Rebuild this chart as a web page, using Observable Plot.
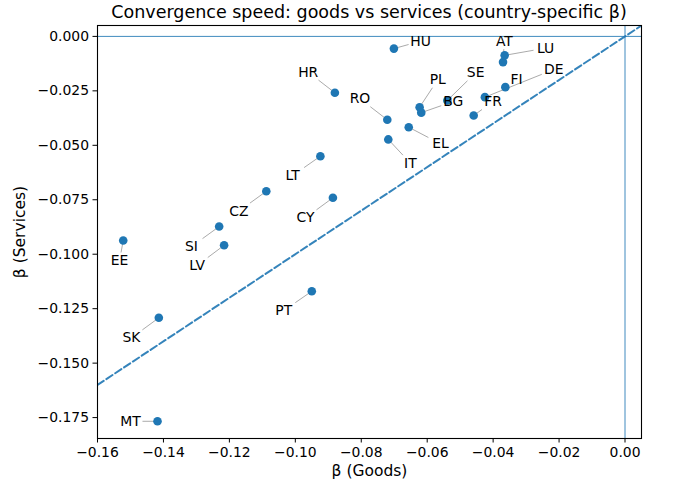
<!DOCTYPE html>
<html><head><meta charset="utf-8">
<script src="https://cdn.jsdelivr.net/npm/d3@7"></script>
<script src="https://cdn.jsdelivr.net/npm/@observablehq/plot@0.6"></script>
<style>
body{margin:0;background:#fff;font-family:"DejaVu Sans",sans-serif;}
#title{position:absolute;left:0;top:0;width:738px;height:25px;line-height:25px;text-align:center;font-size:17.5px;color:#000;}
#chart{position:absolute;left:0;top:24px;}
</style></head><body>
<div id="title">Convergence speed: goods vs services (country-specific β)</div>
<div id="chart"></div>
<script>
const countries = ["HU","AT","LU","HR","RO","PL","BG","SE","FI","DE","FR","EL","IT","LT","CZ","CY","SI","LV","EE","PT","SK","MT"];
const betaGoods = [-0.0701,-0.0370,-0.0365,-0.0880,-0.0721,-0.0623,-0.0618,-0.0539,-0.0363,-0.0425,-0.0459,-0.0656,-0.0718,-0.0924,-0.1088,-0.0886,-0.1231,-0.1216,-0.1522,-0.0950,-0.1414,-0.1418];
const betaServices = [-0.0056,-0.0118,-0.0087,-0.0259,-0.0383,-0.0325,-0.0350,-0.0294,-0.0233,-0.0279,-0.0363,-0.0417,-0.0473,-0.0550,-0.0711,-0.0741,-0.0873,-0.0959,-0.0937,-0.1170,-0.1292,-0.1767];
// label anchor positions (data units) as placed in the reference
const labelGoods = [-0.0620,-0.0366,-0.0241,-0.0961,-0.0804,-0.0568,-0.0521,-0.0453,-0.0329,-0.0216,-0.0400,-0.0560,-0.0651,-0.1008,-0.1171,-0.0969,-0.1315,-0.1298,-0.1533,-0.1035,-0.1497,-0.1500];
const labelServices = [-0.0022,-0.0022,-0.0054,-0.0164,-0.0286,-0.0199,-0.0299,-0.0167,-0.0198,-0.0152,-0.0299,-0.0493,-0.0582,-0.0639,-0.0802,-0.0833,-0.0965,-0.1052,-0.1029,-0.1259,-0.1384,-0.1767];
const xTicks = [-0.16,-0.14,-0.12,-0.10,-0.08,-0.06,-0.04,-0.02,0.00];
const yTicks = [0.000,-0.025,-0.050,-0.075,-0.100,-0.125,-0.150,-0.175];
const xDomain = [-0.16, 0.005];
const yDomain = [-0.1846, 0.005];
const diagonal = [-0.16, 0.005];

const W = 676, H = 462, ML = 97, MR = 35, MT = 1, MB = 48;
const kx = (W - ML - MR) / (xDomain[1] - xDomain[0]);
const ky = (H - MT - MB) / (yDomain[1] - yDomain[0]);

const rows = countries.map((c, i) => {
  const x = betaGoods[i], y = betaServices[i], lx = labelGoods[i], ly = labelServices[i];
  const dxp = (x - lx) * kx, dyp = (y - ly) * ky;
  const hw = 12, hh = 8;
  const s = Math.min(Math.abs(dxp) > 0 ? hw / Math.abs(dxp) : Infinity, Math.abs(dyp) > 0 ? hh / Math.abs(dyp) : Infinity);
  return {c, x, y, lx, ly, s, ex: lx + s * (x - lx), ey: ly + s * (y - ly)};
});

const chart = Plot.plot({
  width: W, height: H,
  marginLeft: ML, marginRight: MR, marginTop: MT, marginBottom: MB,
  style: {fontFamily: "DejaVu Sans", fontSize: "13.9px", background: "#fff", color: "#000"},
  x: {domain: xDomain, ticks: xTicks, tickFormat: d3.format(".2f"), tickSize: 4.5, tickPadding: 4.5, label: null},
  y: {domain: yDomain, ticks: yTicks, tickFormat: d3.format(".3f"), tickSize: 4.5, tickPadding: 4, label: null},
  marks: [
    Plot.ruleY([0], {stroke: "#1f77b4", strokeOpacity: 0.85, strokeWidth: 1}),
    Plot.ruleX([0], {stroke: "#1f77b4", strokeOpacity: 0.85, strokeWidth: 1}),
    Plot.line(diagonal, {x: d => d, y: d => d, stroke: "#1f77b4", strokeOpacity: 0.9, strokeWidth: 2, strokeDasharray: "7.4,3.2", clip: true}),
    Plot.link(rows.filter(d => d.s < 1), {x1: "ex", y1: "ey", x2: "x", y2: "y", stroke: "#a0a0a0", strokeWidth: 0.9}),
    Plot.dot(rows, {x: "x", y: "y", r: 4.3, fill: "#1f77b4", stroke: "none"}),
    Plot.text(rows, {x: "lx", y: "ly", text: "c", fill: "#000", fontSize: 13.9, textAnchor: "middle", lineAnchor: "middle"}),
    Plot.frame({stroke: "#000", strokeWidth: 1.1}),
    Plot.text(["β (Goods)"], {frameAnchor: "bottom", dy: 32.3, text: d => d, textAnchor: "middle", lineAnchor: "middle", fontSize: 15.5, fill: "#000"}),
    Plot.text(["β (Services)"], {frameAnchor: "left", dx: -77, rotate: -90, text: d => d, textAnchor: "middle", lineAnchor: "middle", fontSize: 15.5, fill: "#000"})
  ]
});
document.getElementById("chart").appendChild(chart);
</script>
</body></html>
